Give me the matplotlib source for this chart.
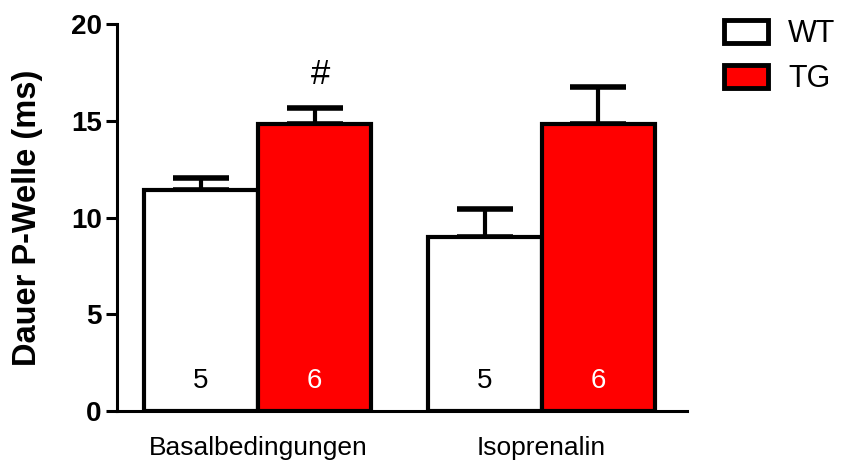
import numpy as np
import matplotlib
matplotlib.use('Agg')
import matplotlib.pyplot as plt
from matplotlib.patches import Patch

# Data
conditions = ['Basalbedingungen', 'Isoprenalin']
groups = ['WT', 'TG']
means = {'WT': [11.42, 9.0], 'TG': [14.83, 14.83]}
sems = {'WT': [0.62, 1.44], 'TG': [0.83, 1.91]}
n_counts = {'WT': [5, 5], 'TG': [6, 6]}
colors = {'WT': 'white', 'TG': '#ff0000'}
n_colors = {'WT': 'black', 'TG': 'white'}
significance = {'TG': ['#', '']}

plt.rcParams['font.family'] = ['Liberation Sans', 'DejaVu Sans']

fig = plt.figure(figsize=(8.41, 4.63), dpi=100)
W, H = 841, 463
ax = fig.add_axes([117 / W, 1 - 411 / H, (687 - 117) / W, (411 - 24) / H])

centers = np.array([0.0, 2.5])
width = 1.0
offsets = {'WT': -0.5, 'TG': 0.5}

for g in groups:
    x = centers + offsets[g]
    ax.bar(x, means[g], width=width, color=colors[g], edgecolor='black',
           linewidth=3, zorder=2)
    ax.errorbar(x, means[g], yerr=[np.zeros(len(x)), sems[g]], fmt='none',
                ecolor='black', elinewidth=3, capsize=20, capthick=4, zorder=1)
    for xi, n in zip(x, n_counts[g]):
        ax.text(xi, 1.55, str(n), ha='center', va='center', fontsize=20,
                color=n_colors[g], zorder=3)
    if g in significance:
        for xi, m, s, lab in zip(x, means[g], sems[g], significance[g]):
            if lab:
                ax.text(xi + 0.05, m + s + 1.75, lab, ha='center', va='center',
                        fontsize=25, zorder=3)

ax.set_xlim(-1.24, 3.78)
ax.set_ylim(0, 20)
ax.set_yticks([0, 5, 10, 15, 20])
ax.set_xticks(centers)
ax.set_xticklabels(conditions, fontsize=19)
ax.tick_params(axis='x', length=0, pad=18)
ax.tick_params(axis='y', direction='out', length=8, width=2.2, pad=3, labelsize=20)
for lab in ax.get_yticklabels():
    lab.set_fontweight('bold')

for side in ['top', 'right']:
    ax.spines[side].set_visible(False)
ax.spines['left'].set_linewidth(2.2)
ax.spines['bottom'].set_linewidth(2.2)
ax.spines['left'].set_zorder(4)

fig.text(28 / W, 1 - 218 / H, 'Dauer P-Welle (ms)', rotation=90, ha='center',
         va='center', fontsize=23.5, fontweight='bold')

handles = [Patch(facecolor=colors[g], edgecolor='black', linewidth=3.5) for g in groups]
fig.legend(handles, groups, loc='upper left', bbox_to_anchor=(724 / W, 1 - 19 / H),
           frameon=False, fontsize=22, handlelength=1.45, handleheight=0.8,
           handletextpad=0.65, labelspacing=0.5, borderpad=0, borderaxespad=0)

fig.savefig('out.png', dpi=100)
